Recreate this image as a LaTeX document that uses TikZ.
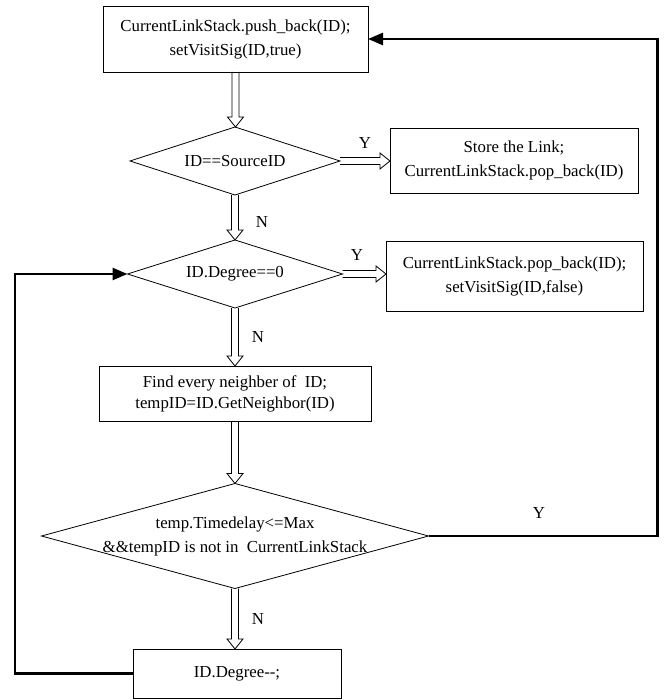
\documentclass[tikz,border=0pt]{standalone}
\usepackage{fontspec}
\setmainfont{Liberation Serif}
\usetikzlibrary{shapes.geometric,arrows.meta,calc}

% hollow block arrows between nodes
\newcommand{\downflow}[2]{%
  \draw[flowarrow] let \p1=(#1), \p2=(#2) in
    (\x1-3.5pt,\y1) -- (\x1-3.5pt,\y2+10pt) -- (\x1-8pt,\y2+10pt) -- (\x1,\y2)
    -- (\x1+8pt,\y2+10pt) -- (\x1+3.5pt,\y2+10pt) -- (\x1+3.5pt,\y1);}
\newcommand{\rightflow}[2]{%
  \draw[flowarrow] let \p1=(#1), \p2=(#2) in
    (\x1,\y1+3.5pt) -- (\x2-10pt,\y1+3.5pt) -- (\x2-10pt,\y1+8pt) -- (\x2,\y1)
    -- (\x2-10pt,\y1-8pt) -- (\x2-10pt,\y1-3.5pt) -- (\x1,\y1-3.5pt);}

\begin{document}
\begin{tikzpicture}[x=1pt,y=-1pt,
  every node/.style={font=\fontsize{16.8}{24}\selectfont},
  procbox/.style={draw,rectangle,align=center,inner sep=0pt,outer sep=0pt,line width=0.8pt},
  decision/.style={draw,diamond,inner sep=0pt,outer sep=0pt,line width=0.8pt},
  flowarrow/.style={line width=0.8pt},
  loopline/.style={line width=2.6pt,-{Triangle[length=15pt,width=12pt]}},
  branch/.style={inner sep=0pt}]
\useasboundingbox (0,0) rectangle (668,700);
% boxes
\node[procbox,minimum width=265pt,minimum height=66pt] (start) at (235.5,39) {CurrentLinkStack.push\_back(ID);\\setVisitSig(ID,true)};
\node[decision,minimum width=210pt,minimum height=68pt,label={center:ID==SourceID}] (d1) at (235,161) {};
\node[procbox,minimum width=248pt,minimum height=65pt] (store) at (514,160.5) {Store the Link;\\CurrentLinkStack.pop\_back(ID)};
\node[decision,minimum width=215pt,minimum height=68pt,label={center:ID.Degree==0}] (d2) at (235,274) {};
\node[procbox,minimum width=257pt,minimum height=70pt] (pop) at (514.5,276) {CurrentLinkStack.pop\_back(ID);\\setVisitSig(ID,false)};
\node[procbox,minimum width=272pt,minimum height=55pt] (find) at (235,393.5) {Find every neighber of~ ID;\\[-3pt]tempID=ID.GetNeighbor(ID)};
\node[decision,minimum width=387pt,minimum height=105pt,label={[align=center]center:temp.Timedelay<=Max\\\&\&tempID is not in~ CurrentLinkStack}] (d3) at (235,536) {};
\node[procbox,minimum width=208pt,minimum height=49pt] (dec) at (237,673.5) {ID.Degree-{}-;};
% branch labels
\node[branch] (y1) at (365,143) {Y};
\node[branch] (n1) at (262,222) {N};
\node[branch] (y2) at (357,255) {Y};
\node[branch] (n2) at (258,337) {N};
\node[branch] (y3) at (539,513) {Y};
\node[branch] (n3) at (258,619) {N};
% connectors
\downflow{start.south}{d1.north}
\rightflow{d1.east}{store.west}
\downflow{d1.south}{d2.north}
\rightflow{d2.east}{pop.west}
\downflow{d2.south}{find.north}
\downflow{find.south}{d3.north}
\downflow{d3.south}{dec.north}
\draw[loopline] (d3.east) -- ++(229,0) |- (start.east);
\draw[loopline] (dec.west) -- ++(-118,0) |- (d2.west);
\end{tikzpicture}
\end{document}
